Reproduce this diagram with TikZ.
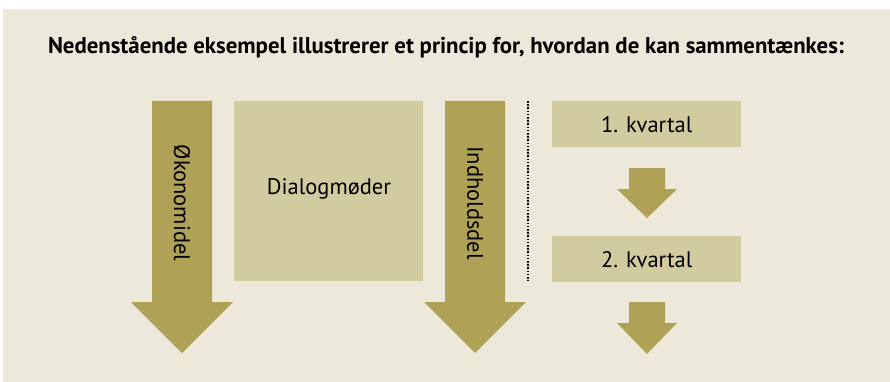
\documentclass[tikz,border=0pt]{standalone}
\usepackage{fontspec}
\setmainfont{PT Sans}
\usepackage{tikz}
\usetikzlibrary{positioning}
\definecolor{cBaggrund}{HTML}{EDE9DA}
\definecolor{cPil}{HTML}{AFA156}
\definecolor{cBoks}{HTML}{D2CBA0}

\begin{document}
\begin{tikzpicture}[
  x=1pt,y=-1pt,
  pil/.style={fill=cPil},
  boks/.style={fill=cBoks,inner sep=0pt,anchor=north west},
  lbl/.style={font=\fontsize{22.5}{26}\selectfont,inner sep=0pt},
  pillbl/.style={lbl,rotate=-90},
  skille/.style={line width=1.6pt,dash pattern=on 1.6pt off 1.6pt}
]
\useasboundingbox (0,0) rectangle (890,382);
\fill[cBaggrund] (3,9) rectangle (890,382);

% ---- overskrift
\node[font=\fontsize{22.8}{27}\selectfont\bfseries] (titel) at (446,47)
  {Nedenstående eksempel illustrerer et princip for, hvordan de kan sammentænkes:};

% ---- store pile
\fill[pil] (152,101) -- (212,101) -- (212,302) -- (233,302) -- (182,353)
  -- (131,302) -- (152,302) -- cycle;
\node[pillbl] (oko) at (182,203) {Økonomidel};
\fill[pil] (445,101) -- (505,101) -- (505,302) -- (526,302) -- (475,353)
  -- (424,302) -- (445,302) -- cycle;
\node[pillbl] (ind) at (475,203) {Indholdsdel};

% ---- dialogmøder
\node[boks,minimum width=189pt,minimum height=180pt] (dia) at (234,101) {};
\node[lbl] (dialbl) at (329,189) {Dialogmøder};

% ---- skillelinje
\coordinate (s1) at (528,101);
\coordinate (s2) at (528,281);
\draw[skille] (s1) -- (s2);

% ---- kvartaler
\node[boks,minimum width=189pt,minimum height=46pt] (k1) at (552,101) {};
\node[lbl] (k1lbl) at (k1.center) {1. kvartal};
\fill[pil] (629,168) -- (665,168) -- (665,189) -- (677,189) -- (647,218)
  -- (617,189) -- (629,189) -- cycle;
\node[boks,minimum width=189pt,minimum height=46pt] (k2) at (552,236) {};
\node[lbl] (k2lbl) at (k2.center) {2. kvartal};
\fill[pil] (629,302) -- (665,302) -- (665,323) -- (677,323) -- (647,354)
  -- (617,323) -- (629,323) -- cycle;
\end{tikzpicture}
\end{document}
